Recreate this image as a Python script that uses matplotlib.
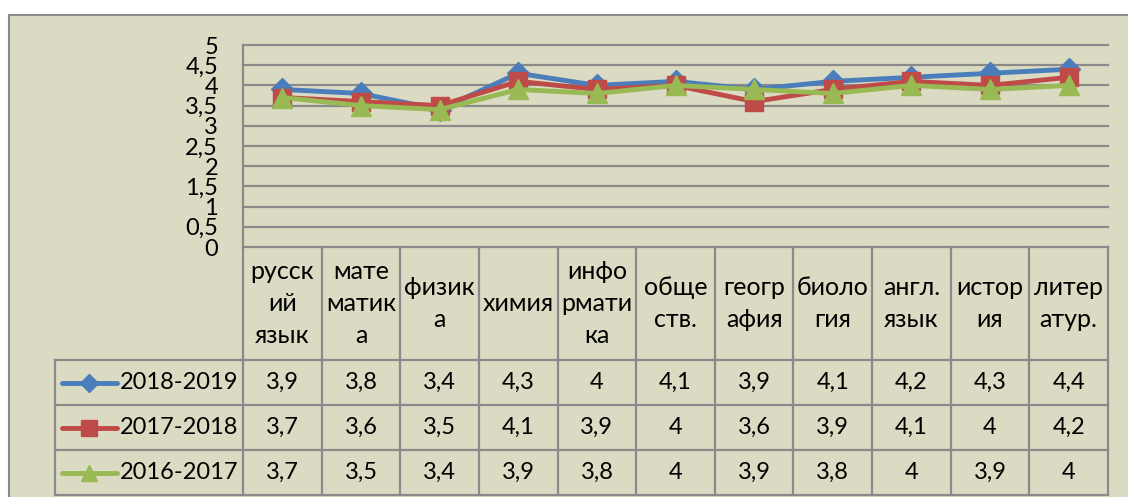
import numpy as np
import matplotlib.pyplot as plt
import matplotlib.patches as patches

plt.rcParams['font.family'] = ['Lato', 'DejaVu Sans']

# Data
subjects = ["русск\nий\nязык", "мате\nматик\nа", "физик\nа", "химия", "инфо\nрмати\nка",
            "обще\nств.", "геогр\nафия", "биоло\nгия", "англ.\nязык", "истор\nия", "литер\nатур."]
years = ["2018-2019", "2017-2018", "2016-2017"]
v_2018_2019 = [3.9, 3.8, 3.4, 4.3, 4.0, 4.1, 3.9, 4.1, 4.2, 4.3, 4.4]
v_2017_2018 = [3.7, 3.6, 3.5, 4.1, 3.9, 4.0, 3.6, 3.9, 4.1, 4.0, 4.2]
v_2016_2017 = [3.7, 3.5, 3.4, 3.9, 3.8, 4.0, 3.9, 3.8, 4.0, 3.9, 4.0]
y_ticks = [0, 0.5, 1, 1.5, 2, 2.5, 3, 3.5, 4, 4.5, 5]

series = [v_2018_2019, v_2017_2018, v_2016_2017]
colors = ['#4A7EBB', '#BE4B48', '#98B954']
markers = ['D', 's', '^']
msizes = [11, 13, 14]

bg = '#DBDAC3'
grid_c = '#8A8A8A'
W, H = 1128, 497
fs = 17

fig = plt.figure(figsize=(W / 100, H / 100), dpi=100)
fig.patch.set_facecolor('white')
fig.patches.append(patches.Rectangle((9 / W, -0.1), 1.2, 1 - 15 / H + 0.1,
                                     transform=fig.transFigure, facecolor=bg,
                                     edgecolor=grid_c, lw=1.5, zorder=-5))

# plot area
left, right, top, bottom = 243, 1108, 45, 247
n = len(subjects)
col_w = (right - left) / n
x = np.arange(n)

ax = fig.add_axes([left / W, 1 - bottom / H, (right - left) / W, (bottom - top) / H])
ax.set_facecolor('none')
ax.set_xlim(-0.5, n - 0.5)
ax.set_ylim(0, 5)
for t in y_ticks:
    ax.axhline(t, color=grid_c, lw=1.6, zorder=1, clip_on=False)
ax.set_yticks(y_ticks)
ax.set_yticklabels([f"{t:g}".replace('.', ',') for t in y_ticks], fontsize=fs)
ax.tick_params(axis='y', length=0, pad=18)
ax.set_xticks([])
for s in ['top', 'right', 'bottom']:
    ax.spines[s].set_visible(False)
ax.spines['left'].set_color(grid_c)
ax.spines['left'].set_linewidth(1.6)

for vals, c, m, ms in zip(series, colors, markers, msizes):
    ax.plot(x, vals, color=c, lw=3.5, marker=m, markersize=ms, zorder=3)

# data table
leg_left = 55
header_h, row_h = 113, 45
tbl_bottom = bottom + header_h + row_h * len(series)
tax = fig.add_axes([leg_left / W, 1 - tbl_bottom / H, (right - leg_left) / W, (tbl_bottom - bottom) / H])
tax.set_facecolor('none')
tax.axis('off')
x0 = -0.5 - (left - leg_left) / col_w
tax.set_xlim(x0, n - 0.5)
tax.set_ylim(tbl_bottom, bottom)

def px2x(px):
    return -0.5 + (px - left) / col_w

lk = dict(color=grid_c, lw=1.6, clip_on=False)
# vertical lines
for i in range(n + 1):
    tax.plot([i - 0.5, i - 0.5], [bottom, tbl_bottom], **lk)
tax.plot([x0, x0], [bottom + header_h, tbl_bottom], **lk)
# horizontal lines
for r in range(len(series) + 1):
    yy = bottom + header_h + r * row_h
    tax.plot([x0, n - 0.5], [yy, yy], **lk)

for i, s in enumerate(subjects):
    tax.text(i, bottom + header_h / 2, s, ha='center', va='center', fontsize=18,
             linespacing=1.45)

for r, (vals, c, m, ms, yr) in enumerate(zip(series, colors, markers, msizes, years)):
    yc = bottom + header_h + r * row_h + row_h / 2
    tax.plot([px2x(62), px2x(117)], [yc, yc], color=c, lw=3.5, solid_capstyle='round')
    tax.plot([px2x(89)], [yc], color=c, marker=m, markersize=ms * 0.85)
    tax.text(px2x(120), yc, yr, ha='left', va='center', fontsize=fs)
    for i, v in enumerate(vals):
        tax.text(i, yc, f"{v:g}".replace('.', ','), ha='center', va='center', fontsize=fs)

fig.savefig('out.png', dpi=100, facecolor='white')
